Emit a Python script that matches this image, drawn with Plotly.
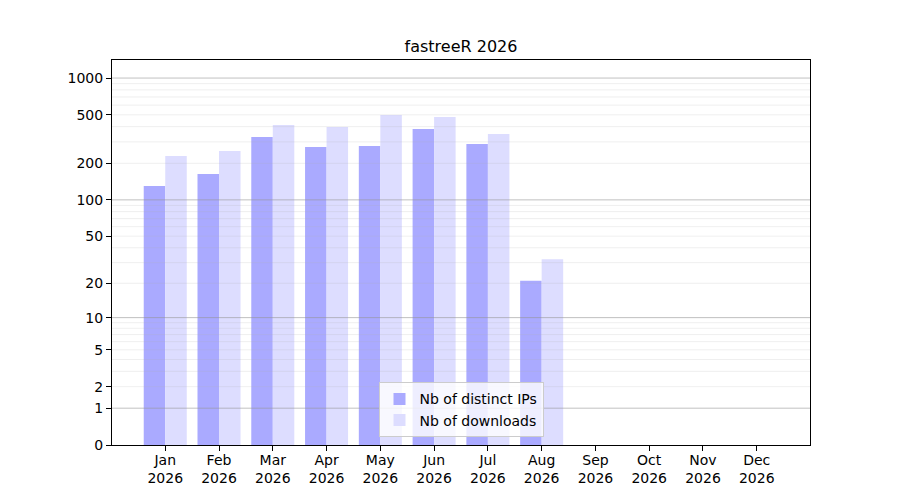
import plotly.graph_objects as go
import numpy as np

# monthly stats, 2026
month_labels = ["Jan", "Feb", "Mar", "Apr", "May", "Jun",
                "Jul", "Aug", "Sep", "Oct", "Nov", "Dec"]
year = "2026"
ips = [130, 163, 329, 272, 277, 383, 288, 21, 0, 0, 0, 0]
downloads = [230, 252, 413, 397, 498, 480, 348, 32, 0, 0, 0, 0]

ytick_values = [0, 1, 2, 5, 10, 20, 50, 100, 200, 500, 1000]
major_grid = [1, 10, 100, 1000]
minor_grid = [d * 10 ** k for k in range(3) for d in range(2, 10)]


def tr(v):
    # y scale: log10(1 + x)
    return np.log10(1 + np.asarray(v, dtype=float))


x = np.arange(1, len(month_labels) + 1)
bar_w = 0.4

fig = go.Figure()
fig.add_trace(go.Bar(
    x=x, y=tr(ips), name="Nb of distinct IPs",
    offset=-bar_w, width=bar_w,
    marker=dict(color="#aaaaff", line=dict(width=0)),
    customdata=ips, hovertemplate="%{customdata}<extra></extra>"))
fig.add_trace(go.Bar(
    x=x, y=tr(downloads), name="Nb of downloads",
    offset=0, width=bar_w,
    marker=dict(color="#ddddff", line=dict(width=0)),
    customdata=downloads, hovertemplate="%{customdata}<extra></extra>"))

# grid drawn over the bars like matplotlib
for v in minor_grid:
    fig.add_shape(type="line", xref="paper", x0=0, x1=1, yref="y",
                  y0=float(tr(v)), y1=float(tr(v)), layer="above",
                  line=dict(color="rgba(176,176,176,0.25)", width=0.8))
for v in major_grid:
    fig.add_shape(type="line", xref="paper", x0=0, x1=1, yref="y",
                  y0=float(tr(v)), y1=float(tr(v)), layer="above",
                  line=dict(color="rgba(150,150,150,0.75)", width=0.8))

lo, hi = x[0] - bar_w, x[-1] + bar_w
pad = (hi - lo) * 0.05

# page body adds 8px, so margins are shifted by that
fig.update_layout(
    width=900, height=500,
    margin=dict(l=104, r=98, t=52, b=63),
    paper_bgcolor="white", plot_bgcolor="white",
    font=dict(family="DejaVu Sans", size=14, color="black"),
    barmode="overlay",
    title=dict(text="fastreeR " + year, x=0.5, xref="paper",
               y=1 - 38 / 500, yref="container", yanchor="middle",
               font=dict(size=16)),
    xaxis=dict(
        range=[lo - pad, hi + pad],
        tickvals=x,
        ticktext=[f"{m}<br>{year}" for m in month_labels],
        ticks="outside", ticklen=5, tickcolor="black",
        ticklabelstandoff=-3,
        showgrid=False, zeroline=False,
        showline=True, mirror=True, linecolor="black", linewidth=1),
    yaxis=dict(
        range=[0, 3.148],
        tickvals=tr(ytick_values), ticktext=[str(v) for v in ytick_values],
        ticks="outside", ticklen=5, tickcolor="black",
        showgrid=False, zeroline=False,
        showline=True, mirror=True, linecolor="black", linewidth=1),
    legend=dict(x=0.5, xanchor="center", y=0.02, yanchor="bottom",
                bgcolor="rgba(255,255,255,0.8)", bordercolor="#cccccc",
                borderwidth=1, font=dict(size=14)),
)

fig.write_html("out.html")
